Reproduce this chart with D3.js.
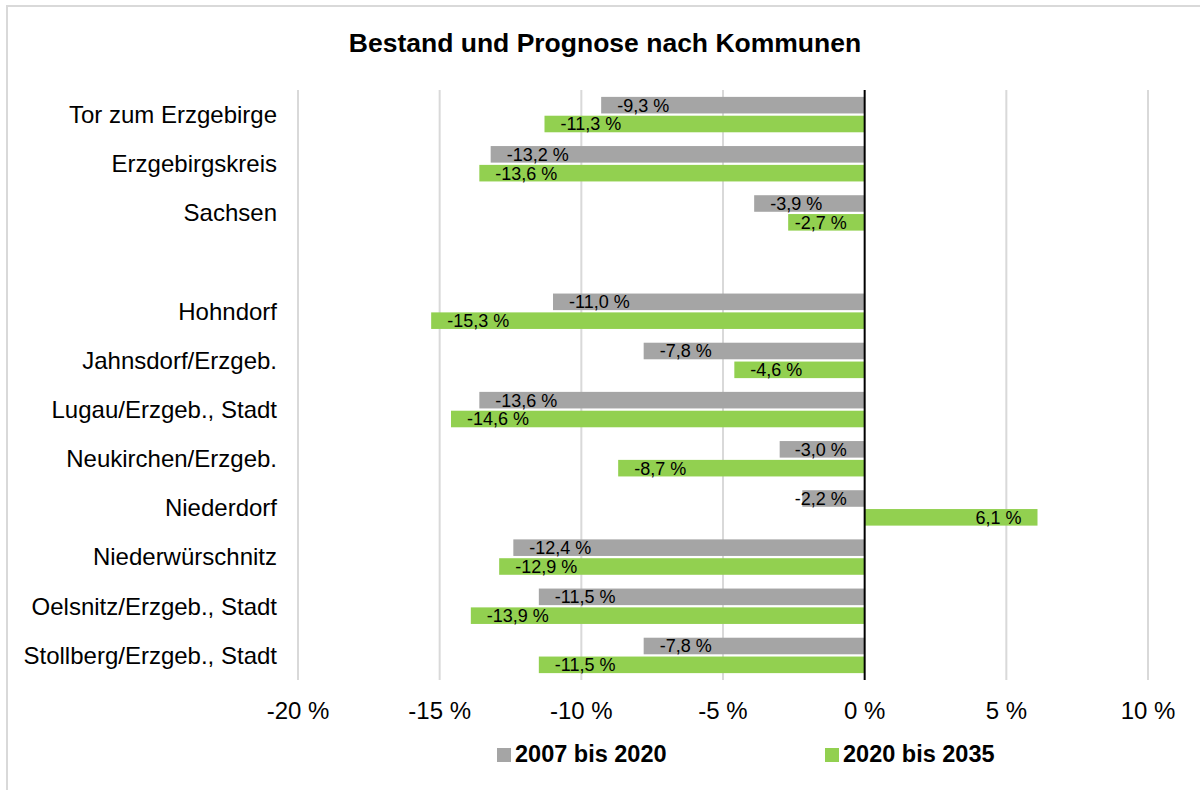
<!DOCTYPE html>
<html>
<head>
<meta charset="utf-8">
<script src="https://cdn.jsdelivr.net/npm/d3@7"></script>
<style>
  body { margin: 0; background: #fff; }
  text { font-family: "Liberation Sans", Arial, sans-serif; fill: #000; }
</style>
</head>
<body>
<div id="chart"></div>
<script>
// Bestand und Prognose nach Kommunen - horizontal grouped bars

var categories = ["Tor zum Erzgebirge", "Erzgebirgskreis", "Sachsen", "",
  "Hohndorf", "Jahnsdorf/Erzgeb.", "Lugau/Erzgeb., Stadt", "Neukirchen/Erzgeb.",
  "Niederdorf", "Niederwürschnitz", "Oelsnitz/Erzgeb., Stadt", "Stollberg/Erzgeb., Stadt"];
var seriesNames = ["2007 bis 2020", "2020 bis 2035"];
var values2007 = [-9.3, -13.2, -3.9, null, -11.0, -7.8, -13.6, -3.0, -2.2, -12.4, -11.5, -7.8];
var values2020 = [-11.3, -13.6, -2.7, null, -15.3, -4.6, -14.6, -8.7, 6.1, -12.9, -13.9, -11.5];
var xTicks = [-20, -15, -10, -5, 0, 5, 10];
var colors = ["#a5a5a5", "#92d050"];

var width = 1200, height = 790;

var de = d3.formatLocale({decimal: ",", thousands: ".", grouping: [3], currency: ["", " €"], minus: "-"});
var fmt1 = de.format(".1f");

var svg = d3.select("#chart").append("svg")
  .attr("width", width)
  .attr("height", height);

svg.append("rect")
  .attr("width", width).attr("height", height)
  .attr("fill", "#fff");

// chart frame (runs off the right and bottom edge)
svg.append("rect")
  .attr("x", 7).attr("y", 6)
  .attr("width", 1210).attr("height", 800)
  .attr("fill", "none")
  .attr("stroke", "#d9d9d9")
  .attr("stroke-width", 2);

svg.append("text")
  .attr("x", 605).attr("y", 52)
  .attr("text-anchor", "middle")
  .style("font-size", "26.5px")
  .style("font-weight", "bold")
  .text("Bestand und Prognose nach Kommunen");

var x = d3.scaleLinear().domain([-20, 10]).range([298, 1148]);

var y = d3.scaleBand()
  .domain(d3.range(categories.length))
  .range([90, 680])
  .paddingInner(0.28)
  .paddingOuter(0.14);

var ySub = d3.scaleBand()
  .domain([0, 1])
  .range([0, y.bandwidth()])
  .paddingInner(0.12);

// gridlines
svg.append("g")
  .selectAll("line")
  .data(xTicks.filter(function(t) { return t !== 0; }))
  .join("line")
  .attr("x1", function(d) { return x(d); })
  .attr("x2", function(d) { return x(d); })
  .attr("y1", 90).attr("y2", 680)
  .attr("stroke", "#d9d9d9")
  .attr("stroke-width", 2);

// x tick labels
svg.append("g")
  .selectAll("text")
  .data(xTicks)
  .join("text")
  .attr("x", function(d) { return x(d); })
  .attr("y", 719)
  .attr("text-anchor", "middle")
  .style("font-size", "24px")
  .text(function(d) { return d + " %"; });

// category labels
svg.append("g")
  .selectAll("text")
  .data(categories)
  .join("text")
  .attr("x", 277)
  .attr("y", function(d, i) { return y(i) + y.bandwidth() / 2; })
  .attr("dy", "0.35em")
  .attr("text-anchor", "end")
  .style("font-size", "24px")
  .text(function(d) { return d; });

var bars = [];
categories.forEach(function(c, i) {
  [values2007, values2020].forEach(function(vals, s) {
    if (vals[i] !== null) bars.push({row: i, s: s, v: vals[i]});
  });
});

svg.append("g")
  .selectAll("rect")
  .data(bars)
  .join("rect")
  .attr("x", function(d) { return Math.min(x(d.v), x(0)); })
  .attr("width", function(d) { return Math.abs(x(d.v) - x(0)); })
  .attr("y", function(d) { return y(d.row) + ySub(d.s); })
  .attr("height", ySub.bandwidth())
  .attr("fill", function(d) { return colors[d.s]; });

// data labels, placed inside the bar near its outer end
svg.append("g")
  .selectAll("text")
  .data(bars)
  .join("text")
  .attr("x", function(d) {
    if (d.v < 0) return Math.min(x(d.v) + 16, x(0) - 70);
    return x(d.v) - 16;
  })
  .attr("y", function(d) { return y(d.row) + ySub(d.s) + ySub.bandwidth() / 2; })
  .attr("dy", "0.36em")
  .attr("text-anchor", function(d) { return d.v < 0 ? "start" : "end"; })
  .style("font-size", "18px")
  .text(function(d) { return fmt1(d.v) + " %"; });

// zero line
svg.append("line")
  .attr("x1", x(0)).attr("x2", x(0))
  .attr("y1", 90).attr("y2", 680)
  .attr("stroke", "#000")
  .attr("stroke-width", 2);

// legend
var legendX = [497, 825];
var legend = svg.append("g")
  .selectAll("g")
  .data(seriesNames)
  .join("g")
  .attr("transform", function(d, i) { return "translate(" + legendX[i] + ",748)"; });

legend.append("rect")
  .attr("width", 14).attr("height", 14)
  .attr("fill", function(d, i) { return colors[i]; });

legend.append("text")
  .attr("x", 18).attr("y", 14)
  .style("font-size", "23.5px")
  .style("font-weight", "bold")
  .text(function(d) { return d; });
</script>
</body>
</html>
